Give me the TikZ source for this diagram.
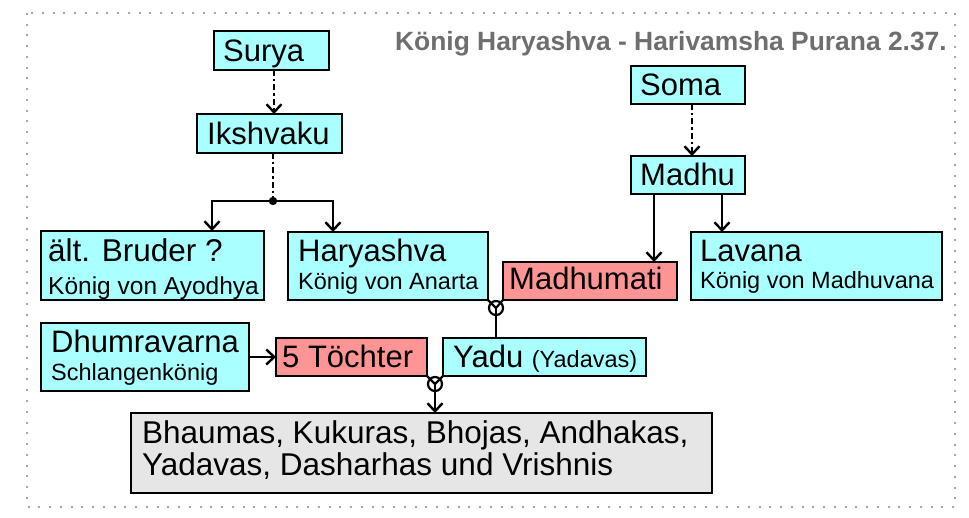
\documentclass[tikz,border=0pt]{standalone}
\usepackage{fontspec}
\setmainfont{Liberation Sans}
\usetikzlibrary{arrows.meta}
\definecolor{cyanbox}{HTML}{AAFFFF}
\definecolor{salmonbox}{HTML}{FF9494}
\definecolor{greybox}{HTML}{E6E6E6}
\definecolor{titlegray}{HTML}{6E6E6E}
\definecolor{dotgray}{HTML}{A8A8A8}
\newcommand\BigLbl{\fontsize{31}{33}\selectfont}
\newcommand\SmallLbl{\fontsize{23.5}{25}\selectfont}
\begin{document}
\begin{tikzpicture}[x=1pt,y=-1pt,
  box/.style={draw, line width=2.8pt, inner sep=0pt, outer sep=0pt, anchor=north west},
  cbox/.style={box, fill=cyanbox},
  sbox/.style={box, fill=salmonbox},
  gbox/.style={box, fill=greybox},
  lbl/.style={inner sep=0pt, anchor=base west, text=black},
  conn/.style={line width=2.4pt},
  arr/.style={conn, -{Straight Barb[length=8pt,width=15pt,line width=2.4pt]}},
  dd/.style={dash pattern=on 6pt off 3pt on 2.5pt off 3pt},
  wed/.style={line width=2.2pt}]
\useasboundingbox (0,0) rectangle (969,518);
\draw[dotgray, line width=2pt, dash pattern=on 2pt off 8.75pt] (27,13) rectangle (955,507);

% title
\node[inner sep=0pt, anchor=base east, text=titlegray, font=\fontsize{26.4}{28}\selectfont\bfseries] (title) at (947,51) {König Haryashva - Harivamsha Purana 2.37.};

% boxes
\node[cbox, minimum width=115pt, minimum height=39pt] (surya) at (214,31) {};
\node[cbox, minimum width=145pt, minimum height=39pt] (iksh) at (197,114) {};
\node[cbox, minimum width=114pt, minimum height=38pt] (soma) at (631,66) {};
\node[cbox, minimum width=114pt, minimum height=38pt] (madhu) at (631,156) {};
\node[cbox, minimum width=223pt, minimum height=69pt] (bruder) at (41,231) {};
\node[cbox, minimum width=200pt, minimum height=68pt] (hary) at (288,232) {};
\node[sbox, minimum width=174pt, minimum height=38pt] (madhumati) at (503,262) {};
\node[cbox, minimum width=251pt, minimum height=68pt] (lavana) at (691,232) {};
\node[cbox, minimum width=208pt, minimum height=68pt] (dhumra) at (41,323) {};
\node[sbox, minimum width=151pt, minimum height=38pt] (toechter) at (276,338) {};
\node[cbox, minimum width=203pt, minimum height=38pt] (yadu) at (443,338) {};
\node[gbox, minimum width=581pt, minimum height=80pt] (bhaumas) at (131,413) {};

% helper coordinates
\coordinate (xs) at (274,0);
\coordinate (j) at (273,201);
\coordinate (xl) at (212,0);
\coordinate (xr) at (333,0);
\coordinate (xsoma) at (692,0);
\coordinate (xm1) at (654,0);
\coordinate (xm2) at (722,0);
\coordinate (m1) at (496,308);
\coordinate (m2) at (435,384);

% connectors
\draw[arr, dd] (surya.south -| xs) -- (iksh.north -| xs);
\draw[conn, dd] (iksh.south -| j) -- (j);
\fill (j) circle (4.2pt);
\draw[arr] (j) -| (bruder.north -| xl);
\draw[arr] (j) -| (hary.north -| xr);
\draw[arr, dd] (soma.south -| xsoma) -- (madhu.north -| xsoma);
\draw[arr] (madhu.south -| xm1) -- (madhumati.north -| xm1);
\draw[arr] (madhu.south -| xm2) -- (lavana.north -| xm2);
\draw[arr] (dhumra.east) -- (toechter.west);
\draw[wed] (hary.south east) -- (m1) -- (madhumati.south west);
\draw[wed] (m1) circle (7pt);
\draw[conn] (m1) -- (yadu.north -| m1);
\draw[wed] (toechter.south east) -- (m2) -- (yadu.south west);
\draw[wed] (m2) circle (7pt);
\draw[arr] (m2) -- (bhaumas.north -| m2);

% texts
\node[lbl] (tsurya) at (223,62) {\BigLbl Surya};
\node[lbl] (tiksh) at (207,145) {\BigLbl Ikshvaku};
\node[lbl] (tsoma) at (640,96) {\BigLbl Soma};
\node[lbl] (tmadhu) at (640,186) {\BigLbl Madhu};
\node[lbl] (tbruder) at (48,262) {\fontsize{31.5}{33}\selectfont ält. Bruder ?};
\node[lbl] (tbruder2) at (48,295) {\fontsize{24.5}{26}\selectfont König von Ayodhya};
\node[lbl] (thary) at (298,262) {\BigLbl Haryashva};
\node[lbl] (thary2) at (298,290) {\SmallLbl König von Anarta};
\node[lbl] (tmadhumati) at (509,290) {\BigLbl Madhumati};
\node[lbl] (tlavana) at (700,262) {\BigLbl Lavana};
\node[lbl] (tlavana2) at (700,289) {\SmallLbl König von Madhuvana};
\node[lbl] (tdhumra) at (51,353) {\BigLbl Dhumravarna};
\node[lbl] (tdhumra2) at (51,381) {\SmallLbl Schlangenkönig};
\node[lbl] (ttoechter) at (282,368) {\BigLbl 5 Töchter};
\node[lbl] (tyadu) at (453,367) {\BigLbl Yadu {\SmallLbl (Yadavas)}};
\node[lbl] (tbh1) at (142,443) {\fontsize{31.5}{33}\selectfont Bhaumas, Kukuras, Bhojas, Andhakas,};
\node[lbl] (tbh2) at (142,475) {\fontsize{31.5}{33}\selectfont Yadavas, Dasharhas und Vrishnis};
\end{tikzpicture}
\end{document}
